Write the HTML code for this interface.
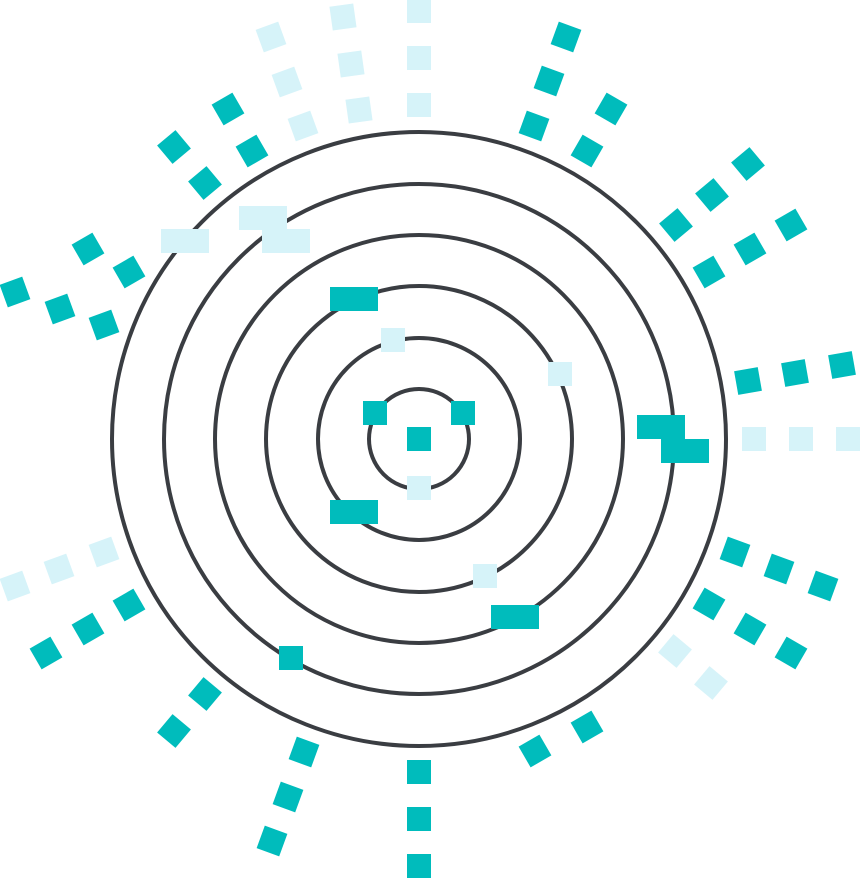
<!DOCTYPE html>
<html><head><style>html,body{margin:0;padding:0;background:#fff}svg{display:block}</style></head><body>
<svg width="862" height="879" viewBox="0 0 862 879" xmlns="http://www.w3.org/2000/svg">
<defs>
<rect id="s" x="-12" y="-12" width="24" height="24"/>
<rect id="r" x="-24" y="-12" width="48" height="24"/>
</defs>
<g fill="none" stroke="#3a3d42" stroke-width="4">
<circle cx="419" cy="439" r="50"/>
<circle cx="419" cy="439" r="101"/>
<circle cx="419" cy="439" r="153"/>
<circle cx="419" cy="439" r="204"/>
<circle cx="419" cy="439" r="255"/>
<circle cx="419" cy="439" r="307"/>
</g>
<g fill="#d6f3f9">
<use href="#s" transform="translate(419,11)"/>
<use href="#s" transform="translate(419,58)"/>
<use href="#s" transform="translate(419,105)"/>
<use href="#s" transform="translate(343,17) rotate(-8)"/>
<use href="#s" transform="translate(351,64) rotate(-8)"/>
<use href="#s" transform="translate(359,110) rotate(-8)"/>
<use href="#s" transform="translate(271,37) rotate(-20)"/>
<use href="#s" transform="translate(287,82) rotate(-20)"/>
<use href="#s" transform="translate(303,126) rotate(-20)"/>
<use href="#r" transform="translate(263,218)"/>
<use href="#r" transform="translate(286,241)"/>
<use href="#r" transform="translate(185,241)"/>
<use href="#s" transform="translate(848,439)"/>
<use href="#s" transform="translate(801,439)"/>
<use href="#s" transform="translate(754,439)"/>
<use href="#s" transform="translate(393,340)"/>
<use href="#s" transform="translate(560,374)"/>
<use href="#s" transform="translate(419,488)"/>
<use href="#s" transform="translate(485,576)"/>
<use href="#s" transform="translate(675,651) rotate(40)"/>
<use href="#s" transform="translate(711,683) rotate(40)"/>
<use href="#s" transform="translate(15,586) rotate(-20)"/>
<use href="#s" transform="translate(59,569) rotate(-20)"/>
<use href="#s" transform="translate(104,552) rotate(-20)"/>
</g>
<g fill="#00bcbc">
<use href="#s" transform="translate(228,109) rotate(-30)"/>
<use href="#s" transform="translate(252,151) rotate(-30)"/>
<use href="#s" transform="translate(174,147) rotate(-40)"/>
<use href="#s" transform="translate(205,183) rotate(-40)"/>
<use href="#s" transform="translate(88,249) rotate(-30)"/>
<use href="#s" transform="translate(129,272) rotate(-30)"/>
<use href="#s" transform="translate(15,292) rotate(-20)"/>
<use href="#s" transform="translate(60,309) rotate(-20)"/>
<use href="#s" transform="translate(104,325) rotate(-20)"/>
<use href="#s" transform="translate(566,37) rotate(20)"/>
<use href="#s" transform="translate(549,81) rotate(20)"/>
<use href="#s" transform="translate(534,126) rotate(20)"/>
<use href="#s" transform="translate(611,109) rotate(30)"/>
<use href="#s" transform="translate(587,151) rotate(30)"/>
<use href="#s" transform="translate(748,164) rotate(50)"/>
<use href="#s" transform="translate(712,195) rotate(50)"/>
<use href="#s" transform="translate(676,225) rotate(50)"/>
<use href="#s" transform="translate(791,225) rotate(60)"/>
<use href="#s" transform="translate(750,249) rotate(60)"/>
<use href="#s" transform="translate(709,272) rotate(60)"/>
<use href="#s" transform="translate(842,365) rotate(-10)"/>
<use href="#s" transform="translate(795,373) rotate(-10)"/>
<use href="#s" transform="translate(748,381) rotate(-10)"/>
<use href="#r" transform="translate(661,427)"/>
<use href="#r" transform="translate(685,451)"/>
<use href="#r" transform="translate(354,299)"/>
<use href="#s" transform="translate(375,413)"/>
<use href="#s" transform="translate(463,413)"/>
<use href="#s" transform="translate(419,439)"/>
<use href="#r" transform="translate(354,512)"/>
<use href="#r" transform="translate(515,617)"/>
<use href="#s" transform="translate(291,658)"/>
<use href="#s" transform="translate(735,552) rotate(20)"/>
<use href="#s" transform="translate(779,569) rotate(20)"/>
<use href="#s" transform="translate(823,586) rotate(20)"/>
<use href="#s" transform="translate(709,604) rotate(30)"/>
<use href="#s" transform="translate(750,629) rotate(30)"/>
<use href="#s" transform="translate(791,653) rotate(30)"/>
<use href="#s" transform="translate(587,727) rotate(-30)"/>
<use href="#s" transform="translate(535,751) rotate(-30)"/>
<use href="#s" transform="translate(419,772)"/>
<use href="#s" transform="translate(419,819)"/>
<use href="#s" transform="translate(419,866)"/>
<use href="#s" transform="translate(304,752) rotate(20)"/>
<use href="#s" transform="translate(288,797) rotate(20)"/>
<use href="#s" transform="translate(272,841) rotate(20)"/>
<use href="#s" transform="translate(205,694) rotate(40)"/>
<use href="#s" transform="translate(174,731) rotate(40)"/>
<use href="#s" transform="translate(46,653) rotate(-30)"/>
<use href="#s" transform="translate(88,629) rotate(-30)"/>
<use href="#s" transform="translate(129,605) rotate(-30)"/>
</g>
</svg>
</body></html>
